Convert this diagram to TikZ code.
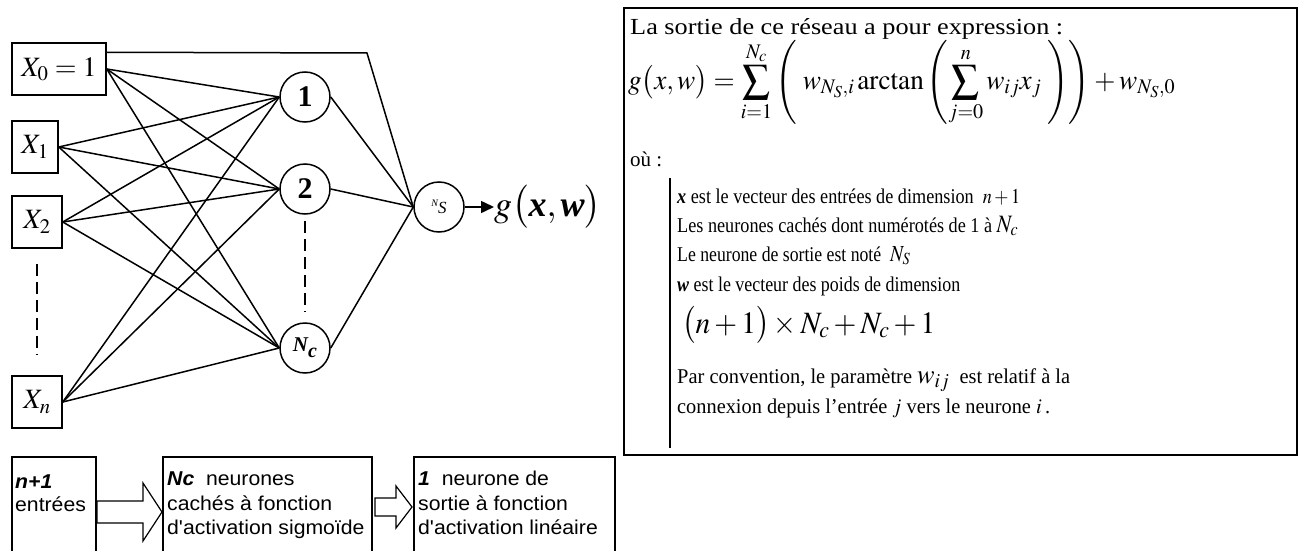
\documentclass[tikz,border=0pt]{standalone}
\usepackage{graphicx}
\usepackage{mathptmx}
\usepackage{fontspec}
\setmainfont{Liberation Serif}
\newfontfamily\arialf[FakeStretch=1.06]{Liberation Sans}
\usetikzlibrary{arrows.meta,calc}
\newcommand{\fitline}[2]{\resizebox{#1}{\height}{#2}}
\begin{document}
\begin{tikzpicture}[x=1pt,y=-1pt]
\tikzset{
  inbox/.style={draw, rectangle, inner sep=0pt, line width=1.5pt, font=\fontsize{28}{30}\selectfont},
  neuron/.style={draw, circle, minimum size=50pt, inner sep=0pt, line width=1.5pt},
  link/.style={line width=1.5pt},
  dashline/.style={line width=1.5pt, dash pattern=on 12pt off 6pt},
  txt/.style={anchor=base west, inner sep=0pt, font=\fontsize{21}{23}\selectfont},
  sanstxt/.style={anchor=base west, inner sep=0pt, font=\arialf\fontsize{20}{22}\selectfont},
  blockline/.style={line width=1.5pt},
  blockarrow/.style={line width=1.2pt, line join=miter},
}
\useasboundingbox (0,0) rectangle (1303,551);

% inputs
\node[inbox, minimum width=94pt, minimum height=52pt] (X0) at (59,69) {$X_0=1$};
\node[inbox, minimum width=46pt, minimum height=52pt] (X1) at (35,147) {$X_1$};
\node[inbox, minimum width=50pt, minimum height=52pt] (X2) at (37,222) {$X_2$};
\node[inbox, minimum width=50pt, minimum height=52pt] (Xn) at (37,402) {$X_n$};

% hidden neurons
\node[neuron, font=\fontsize{30}{30}\selectfont\bfseries] (H1) at (305,97) {1};
\node[neuron, font=\fontsize{30}{30}\selectfont\bfseries] (H2) at (305,189) {2};
\node[neuron] (Hc) at (305,348) {\fontsize{21}{21}\selectfont\bfseries\itshape N\raisebox{-6pt}{\fontsize{20}{20}\selectfont c}};

% output neuron
\node[neuron] (Ns) at (439,207) {\raisebox{3pt}{\fontsize{10}{10}\selectfont\itshape N}\raisebox{-4pt}{\fontsize{17}{17}\selectfont\itshape S}};
\node[anchor=west, inner sep=0pt, font=\fontsize{36}{37}\selectfont] (g) at (494,207) {$g\bigl(\textbf{\textit{x}},\textbf{\textit{w}}\bigr)$};

% connections
\foreach \s in {X0,X1,X2,Xn}
  \foreach \t in {H1,H2,Hc}
    \draw[link] (\s.east) -- (\t.west);
\foreach \t in {H1,H2,Hc}
  \draw[link] (\t.east) -- (Ns.west);
\coordinate (bend) at (367,53);
\draw[link] ([yshift=-10pt]X0.north east) -- (bend) -- (Ns.west);
\draw[link, -{Triangle[length=13pt,width=12pt]}] (Ns.east) -- (g.west);

\draw[dashline, shorten <=15pt, shorten >=21pt] (X2.south) -- (Xn.north);
\draw[dashline, shorten <=6pt, shorten >=10pt] (H2.south) -- (Hc.north);

% bottom boxes
\draw[blockline] (12,552) |- (96,457) -- (96,552);
\draw[blockline] (163,552) |- (372,457) -- (372,552);
\draw[blockline] (414,552) |- (615,457) -- (615,552);
\node[sanstxt] (b1a) at (15,488) {\bfseries\itshape n+1};
\node[sanstxt] (b1b) at (15,511) {entrées};
\node[sanstxt] (b2a) at (167,485) {\textbf{\textit{Nc}}\ \ neurones};
\node[sanstxt] (b2b) at (167,510) {cachés à fonction};
\node[sanstxt] (b2c) at (167,534) {d'activation sigmoïde};
\node[sanstxt] (b3a) at (418,485) {\textbf{\textit{1}}\ \ neurone de};
\node[sanstxt] (b3b) at (418,510) {sortie à fonction};
\node[sanstxt] (b3c) at (418,534) {d'activation linéaire};
\draw[blockarrow] (97,501) -- (143,501) -- (143,483) -- (162,512) -- (143,541) -- (143,523) -- (97,523) -- cycle;
\draw[blockarrow] (375,498) -- (396,498) -- (396,486) -- (412,507) -- (396,528) -- (396,516) -- (375,516) -- cycle;

% explanation box
\node[draw, line width=2.5pt, minimum width=673pt, minimum height=447pt, inner sep=0pt] (expl) at (960.5,231.5) {};
\node[txt, font=\fontsize{23}{25}\selectfont] (t1) at (630,35) {\fitline{433pt}{La sortie de ce réseau a pour expression :}};
\node[anchor=west, inner sep=0pt, font=\fontsize{28}{30}\selectfont] (f) at (628,83)
  {\fitline{547pt}{$\displaystyle g\bigl(x,w\bigr)=\sum_{i=1}^{N_c}\left(\; w_{N_S,i}\,\mathrm{arctan}\left(\sum_{j=0}^{n}w_{ij}x_j\;\right)\right)+w_{N_S,0}$}};
\node[txt] (t2) at (630,166) {où :};
\draw[line width=2pt] (670,178) -- (670,448);
\node[txt] (t3) at (677,203) {\fitline{343pt}{\textbf{\textit{x}} est le vecteur des entrées de dimension \ $n+1$}};
\node[txt] (t4) at (677,232) {\fitline{341pt}{Les neurones cachés dont numérotés de 1 à {\fontsize{25}{25}\selectfont$N_c$}}};
\node[txt] (t5) at (677,261) {\fitline{233pt}{Le neurone de sortie est noté \ {\fontsize{23}{23}\selectfont$N_S$}}};
\node[txt] (t6) at (677,291) {\fitline{283pt}{\textbf{\textit{w}} est le vecteur des poids de dimension}};
\node[txt, font=\fontsize{31}{32}\selectfont] (t7) at (682,333) {\fitline{253pt}{$\bigl(n+1\bigr)\times N_c+N_c+1$}};
\node[txt] (t8) at (677,383) {\fitline{393pt}{Par convention, le paramètre {\fontsize{27}{27}\selectfont$w_{ij}$}\ \ est relatif à la}};
\node[txt] (t9) at (677,413) {\fitline{373pt}{connexion depuis l’entrée $j$ vers le neurone $i$\,.}};
\end{tikzpicture}
\end{document}
